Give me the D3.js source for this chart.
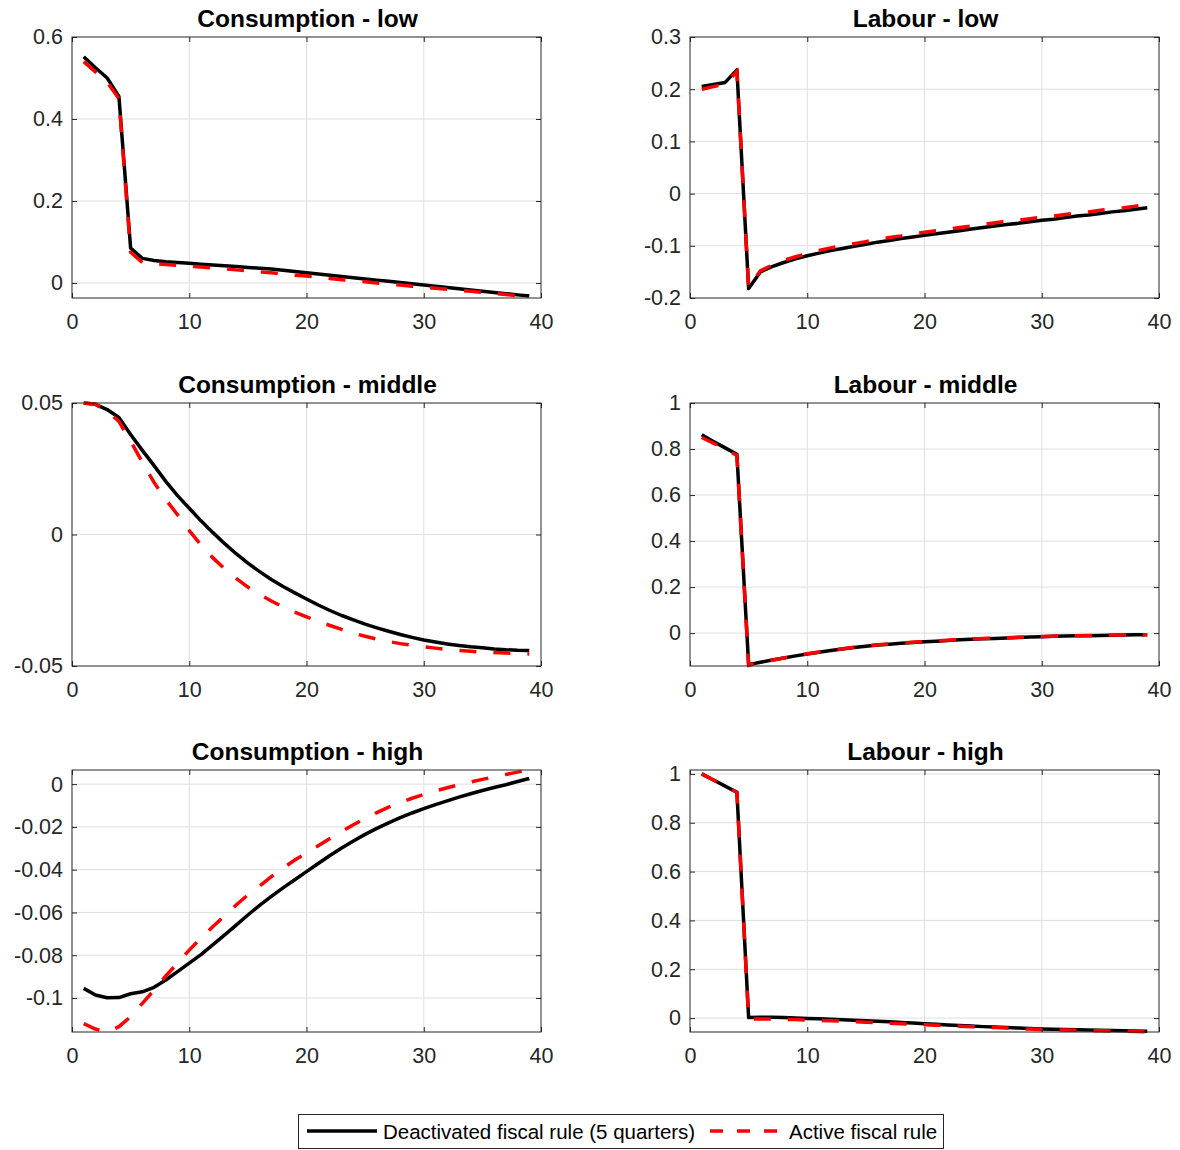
<!DOCTYPE html>
<html lang="en">
<head>
  <meta charset="utf-8" />
  <title>Fiscal rule impulse responses</title>
  <script src="https://d3js.org/d3.v7.min.js"></script>
  <style>
    body {
      margin: 0;
      background: #fff;
      font-family: "Liberation Sans", Arial, sans-serif;
    }
    .grid line { stroke: #dfdfdf; stroke-width: 1; }
    .tick-lbl { font-size: 21.5px; fill: #262626; }
    .leg-lbl { font-size: 20.5px; fill: #000; }
    .ttl { font-size: 24.5px; font-weight: bold; fill: #000; }
  </style>
</head>
<body>
<svg id="chart" width="1180" height="1150"></svg>

<script>
    // quarters after the shock
    var quarters = d3.range(1, 40);
    var xTicks = [0, 10, 20, 30, 40];

    var consLowDeact = [0.552,0.525,0.500,0.455,0.085,0.060,0.055,0.052,0.050,0.048,
        0.046,0.044,0.042,0.040,0.038,0.036,0.034,0.031,0.028,0.025,
        0.022,0.019,0.016,0.013,0.010,0.007,0.004,0.001,-0.002,-0.005,
        -0.008,-0.011,-0.014,-0.017,-0.020,-0.023,-0.026,-0.029,-0.032];
    var consLowActive = [0.540,0.515,0.490,0.450,0.075,0.050,0.047,0.045,0.043,0.041,
        0.039,0.037,0.035,0.032,0.030,0.027,0.025,0.022,0.019,0.017,
        0.014,0.011,0.008,0.005,0.003,0.000,-0.003,-0.005,-0.008,-0.010,
        -0.013,-0.015,-0.018,-0.020,-0.023,-0.025,-0.028,-0.031,-0.034];

    var labLowDeact = [0.205,0.209,0.213,0.237,-0.182,-0.150,-0.140,-0.132,-0.125,-0.119,
        -0.114,-0.109,-0.105,-0.101,-0.097,-0.093,-0.090,-0.086,-0.083,-0.080,
        -0.077,-0.074,-0.071,-0.068,-0.065,-0.062,-0.059,-0.057,-0.054,-0.051,
        -0.049,-0.046,-0.043,-0.041,-0.038,-0.035,-0.033,-0.030,-0.027];
    var labLowActive = [0.200,0.205,0.210,0.234,-0.180,-0.148,-0.137,-0.128,-0.121,-0.115,
        -0.109,-0.104,-0.100,-0.096,-0.092,-0.088,-0.084,-0.081,-0.077,-0.074,
        -0.071,-0.068,-0.065,-0.062,-0.059,-0.056,-0.053,-0.051,-0.048,-0.045,
        -0.043,-0.040,-0.037,-0.035,-0.032,-0.029,-0.027,-0.024,-0.021];

    var consMidDeact = [0.0500,0.0495,0.0475,0.0445,0.0380,0.0320,0.0262,0.0202,0.0148,0.0100,
        0.0052,0.0008,-0.0034,-0.0073,-0.0109,-0.0141,-0.0171,-0.0198,-0.0222,-0.0245,
        -0.0268,-0.0289,-0.0308,-0.0325,-0.0341,-0.0355,-0.0368,-0.0380,-0.0391,-0.0401,
        -0.0409,-0.0416,-0.0422,-0.0427,-0.0431,-0.0435,-0.0438,-0.0440,-0.0441];
    var consMidActive = [0.0500,0.0495,0.0470,0.0430,0.0355,0.0275,0.0198,0.0133,0.0075,0.0015,
        -0.0040,-0.0088,-0.0130,-0.0167,-0.0200,-0.0228,-0.0253,-0.0275,-0.0295,-0.0313,
        -0.0330,-0.0346,-0.0361,-0.0375,-0.0387,-0.0398,-0.0407,-0.0415,-0.0421,-0.0427,
        -0.0432,-0.0437,-0.0441,-0.0444,-0.0447,-0.0449,-0.0451,-0.0453,-0.0454];

    var labMidDeact = [0.862,0.833,0.805,0.777,-0.137,-0.127,-0.117,-0.108,-0.099,-0.091,
        -0.083,-0.076,-0.069,-0.063,-0.057,-0.052,-0.048,-0.044,-0.041,-0.038,
        -0.035,-0.032,-0.029,-0.027,-0.025,-0.023,-0.021,-0.019,-0.017,-0.0155,
        -0.014,-0.013,-0.012,-0.011,-0.010,-0.009,-0.008,-0.0075,-0.007];
    var labMidActive = [0.850,0.825,0.800,0.772,-0.140,-0.128,-0.118,-0.108,-0.099,-0.090,
        -0.082,-0.075,-0.068,-0.062,-0.056,-0.051,-0.047,-0.043,-0.040,-0.037,
        -0.034,-0.031,-0.028,-0.026,-0.024,-0.022,-0.020,-0.018,-0.016,-0.015,
        -0.0135,-0.0125,-0.0115,-0.0105,-0.0095,-0.0085,-0.0078,-0.0072,-0.0068];

    var consHighDeact = [-0.0955,-0.0986,-0.0999,-0.0998,-0.0980,-0.0971,-0.0950,-0.0916,-0.0877,-0.0837,
        -0.0797,-0.0752,-0.0706,-0.0659,-0.0612,-0.0567,-0.0525,-0.0485,-0.0447,-0.0409,
        -0.0371,-0.0334,-0.0299,-0.0266,-0.0235,-0.0207,-0.0181,-0.0157,-0.0135,-0.0115,
        -0.0096,-0.0078,-0.0061,-0.0045,-0.0030,-0.0016,-0.0003,0.0012,0.0026];
    var consHighActive = [-0.1120,-0.1145,-0.1160,-0.1134,-0.1087,-0.1025,-0.0963,-0.0897,-0.0837,-0.0776,
        -0.0720,-0.0667,-0.0617,-0.0565,-0.0518,-0.0477,-0.0433,-0.0393,-0.0355,-0.0323,
        -0.0288,-0.0254,-0.0221,-0.0190,-0.0160,-0.0133,-0.0108,-0.0086,-0.0066,-0.0048,
        -0.0032,-0.0017,-0.0003,0.0010,0.0022,0.0034,0.0045,0.0056,0.0066];

    var labHighDeact = [1.000,0.975,0.950,0.925,0.002,0.003,0.003,0.002,0.000,-0.002,
        -0.003,-0.005,-0.007,-0.009,-0.011,-0.013,-0.015,-0.018,-0.020,-0.023,
        -0.025,-0.028,-0.030,-0.032,-0.035,-0.037,-0.039,-0.041,-0.043,-0.045,
        -0.046,-0.047,-0.048,-0.049,-0.050,-0.051,-0.052,-0.053,-0.054];
    var labHighActive = [1.000,0.975,0.950,0.925,-0.004,-0.004,-0.004,-0.005,-0.006,-0.008,
        -0.009,-0.011,-0.013,-0.015,-0.017,-0.019,-0.021,-0.023,-0.025,-0.027,
        -0.029,-0.031,-0.033,-0.035,-0.037,-0.039,-0.041,-0.043,-0.045,-0.047,
        -0.048,-0.049,-0.050,-0.051,-0.052,-0.053,-0.054,-0.055,-0.056];

    var legendLabels = ["Deactivated fiscal rule (5 quarters)", "Active fiscal rule"];

    var panels = [
        {title: "Consumption - low",    col: 0, row: 0, ylim: [-0.0366, 0.6],  yTicks: [0, 0.2, 0.4, 0.6],        a: consLowDeact,  b: consLowActive},
        {title: "Labour - low",         col: 1, row: 0, ylim: [-0.2, 0.3],     yTicks: [-0.2, -0.1, 0, 0.1, 0.2, 0.3], a: labLowDeact, b: labLowActive},
        {title: "Consumption - middle", col: 0, row: 1, ylim: [-0.05, 0.05],   yTicks: [-0.05, 0, 0.05],          a: consMidDeact,  b: consMidActive},
        {title: "Labour - middle",      col: 1, row: 1, ylim: [-0.143, 1],     yTicks: [0, 0.2, 0.4, 0.6, 0.8, 1], a: labMidDeact,  b: labMidActive},
        {title: "Consumption - high",   col: 0, row: 2, ylim: [-0.1159, 0.0066], yTicks: [-0.1, -0.08, -0.06, -0.04, -0.02, 0], a: consHighDeact, b: consHighActive},
        {title: "Labour - high",        col: 1, row: 2, ylim: [-0.057, 1.016], yTicks: [0, 0.2, 0.4, 0.6, 0.8, 1], a: labHighDeact, b: labHighActive}
    ];

    var colX = [72, 690];            // left edges of the axes boxes
    var rowY = [[37, 298], [403, 666], [770, 1032]];
    var boxW = 469;
    var axisCol = "#262626";

    var svg = d3.select("#chart");

    function fmt(d) { return String(+d.toFixed(4)); }

    panels.forEach(function(p) {
        var x0 = colX[p.col], y0 = rowY[p.row][0], y1 = rowY[p.row][1];
        var x = d3.scaleLinear().domain([0, 40]).range([x0, x0 + boxW]);
        var y = d3.scaleLinear().domain(p.ylim).range([y1, y0]);
        var g = svg.append("g");

        // grid
        var grid = g.append("g").attr("class", "grid");
        grid.selectAll(".gx").data(xTicks.slice(1, -1)).enter().append("line")
            .attr("x1", function(d) { return x(d); }).attr("x2", function(d) { return x(d); })
            .attr("y1", y0).attr("y2", y1);
        grid.selectAll(".gy").data(p.yTicks.filter(function(d) { return y(d) > y0 + 0.5 && y(d) < y1 - 0.5; })).enter().append("line")
            .attr("x1", x0).attr("x2", x0 + boxW)
            .attr("y1", function(d) { return y(d); }).attr("y2", function(d) { return y(d); });

        // series
        var line = d3.line().x(function(d, i) { return x(quarters[i]); }).y(function(d) { return y(d); });
        var clipId = "clip" + p.col + p.row;
        g.append("clipPath").attr("id", clipId).append("rect")
            .attr("x", x0).attr("y", y0 - 2).attr("width", boxW).attr("height", y1 - y0 + 4);
        g.append("path").datum(p.a).attr("d", line).attr("clip-path", "url(#" + clipId + ")")
            .attr("fill", "none").attr("stroke", "#000").attr("stroke-width", 3.5)
            .attr("stroke-linejoin", "round");
        g.append("path").datum(p.b).attr("d", line).attr("clip-path", "url(#" + clipId + ")")
            .attr("fill", "none").attr("stroke", "#ff0000").attr("stroke-width", 3.5)
            .attr("stroke-dasharray", "17,17");

        // axes, MATLAB style: ticks inside on all four sides
        g.append("g").attr("transform", "translate(0," + y1 + ")")
            .call(d3.axisBottom(x).tickValues(xTicks).tickFormat(fmt).tickSizeInner(-5).tickSizeOuter(0).tickPadding(16))
            .call(styleAxis);
        g.append("g").attr("transform", "translate(0," + y0 + ")")
            .call(d3.axisTop(x).tickValues(xTicks).tickFormat("").tickSizeInner(-5).tickSizeOuter(0))
            .call(styleAxis);
        g.append("g").attr("transform", "translate(" + x0 + ",0)")
            .call(d3.axisLeft(y).tickValues(p.yTicks).tickFormat(fmt).tickSizeInner(-5).tickSizeOuter(0).tickPadding(9))
            .call(styleAxis);
        g.append("g").attr("transform", "translate(" + (x0 + boxW) + ",0)")
            .call(d3.axisRight(y).tickValues(p.yTicks).tickFormat("").tickSizeInner(-5).tickSizeOuter(0))
            .call(styleAxis);

        g.append("rect").attr("x", x0).attr("y", y0).attr("width", boxW).attr("height", y1 - y0)
            .attr("fill", "none").attr("stroke", axisCol).attr("stroke-width", 1);

        g.append("text").attr("class", "ttl").attr("x", x0 + boxW / 2 + 1).attr("y", y0 - 10)
            .attr("text-anchor", "middle").text(p.title);
    });

    function styleAxis(sel) {
        sel.select(".domain").remove();
        sel.selectAll(".tick line").attr("stroke", axisCol);
        sel.selectAll(".tick text").attr("class", "tick-lbl").attr("font-family", null).attr("font-size", null);
    }

    // legend
    var leg = svg.append("g");
    leg.append("rect").attr("x", 298.5).attr("y", 1114.5).attr("width", 645).attr("height", 34)
        .attr("fill", "#fff").attr("stroke", axisCol).attr("stroke-width", 1);
    leg.append("line").attr("x1", 307).attr("x2", 377).attr("y1", 1131).attr("y2", 1131)
        .attr("stroke", "#000").attr("stroke-width", 3.5);
    leg.append("text").attr("class", "leg-lbl").attr("x", 383).attr("y", 1138.5)
        .text(legendLabels[0]);
    leg.append("line").attr("x1", 710).attr("x2", 781).attr("y1", 1131).attr("y2", 1131)
        .attr("stroke", "#ff0000").attr("stroke-width", 3.5).attr("stroke-dasharray", "13,14");
    leg.append("text").attr("class", "leg-lbl").attr("x", 789).attr("y", 1138.5)
        .text(legendLabels[1]);
</script>

</body>
</html>
